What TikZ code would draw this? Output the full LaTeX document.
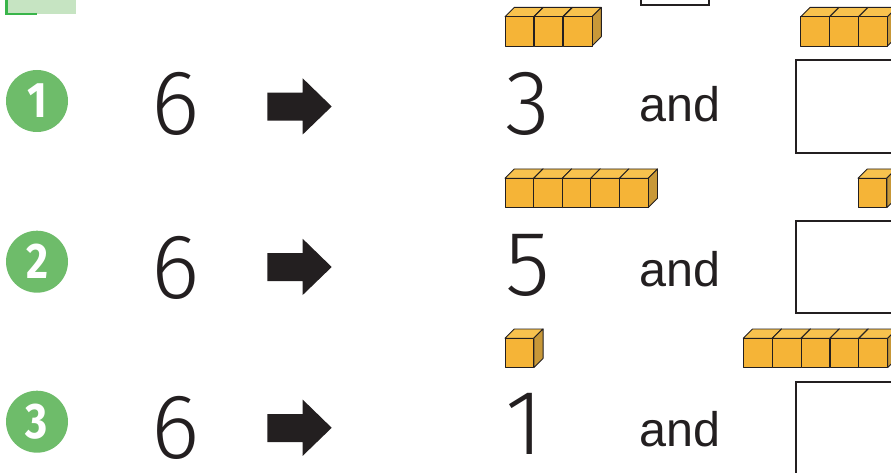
\documentclass[tikz,border=0pt]{standalone}
\usepackage{fontspec}
\setmainfont{Liberation Sans}
\newfontfamily\digfont{Fira Sans}[UprightFont={* Light}]
\newfontfamily\circfont{Fira Sans}[UprightFont={* Bold},FakeStretch=0.85]
\definecolor{circgreen}{RGB}{110,188,106}
\definecolor{lightgreen}{RGB}{198,228,194}
\definecolor{darkgreen}{RGB}{57,181,74}
\definecolor{cubefront}{RGB}{245,180,55}
\definecolor{cubetop}{RGB}{248,194,78}
\definecolor{cubeside}{RGB}{200,152,56}
\definecolor{ink}{RGB}{35,31,32}
\tikzset{
  numcirc/.style={circle,fill=circgreen,minimum size=62pt,inner sep=0pt,text=white,font=\circfont\fontsize{50}{50}\selectfont},
  digtxt/.style={inner sep=0pt,text=ink,font=\digfont\fontsize{92}{92}\selectfont},
  andtxt/.style={inner sep=0pt,text=ink,font=\fontsize{48.5}{48.5}\selectfont},
  boxline/.style={draw=ink,line width=2pt},
  cubeline/.style={draw=ink,line width=0.9pt,line join=round},
  arrowfill/.style={fill=ink}
}
\newcommand{\mycube}[2]{%
  \filldraw[cubeline,fill=cubetop] (#1,#2) -- ++(28.8,0) -- ++(9.3,-9.3) -- ++(-28.8,0) -- cycle;
  \filldraw[cubeline,fill=cubeside] (#1+28.8,#2) -- ++(9.3,-9.3) -- ++(0,29.3) -- ++(-9.3,9.3) -- cycle;
  \filldraw[cubeline,fill=cubefront] (#1,#2) rectangle ++(28.8,29.3);}
\newcommand{\myarrow}[1]{%
  \fill[arrowfill] (267.3,92.7+#1) -- (302.7,92.7+#1) -- (302.7,78.3+#1) -- (331.7,106.5+#1)
    -- (302.7,134.5+#1) -- (302.7,120.7+#1) -- (267.3,120.7+#1) -- cycle;}
\begin{document}
\begin{tikzpicture}[x=1pt,y=-1pt]
\useasboundingbox (0,0) rectangle (891,473);
\clip (0,0) rectangle (891,473);
% top-left tab
\fill[lightgreen] (5,0) rectangle (76,14);
\draw[darkgreen,line width=2.4pt] (6.5,0) -- (6.5,13.8) -- (37.3,13.8);
% top small box
\draw[boxline] (640.7,-10) rectangle (709,5);
% circles
\node[numcirc] (c1) at (37,101) {1};
\node[numcirc] (c2) at (37,261.7) {2};
\node[numcirc] (c3) at (37,421.7) {3};
% sixes
\node[digtxt,anchor=base] (s1) at (176,135) {6};
\node[digtxt,anchor=base] (s2) at (176,298) {6};
\node[digtxt,anchor=base] (s3) at (176,458) {6};
% arrows
\myarrow{0}
\myarrow{160.5}
\myarrow{321.3}
% left numbers
\node[digtxt,anchor=base] (l1) at (527.5,135) {3};
\node[digtxt,anchor=base] (l2) at (527.5,295) {5};
\node[digtxt,anchor=base] (l3) at (524,454) {1};
% and
\node[andtxt,anchor=base west] (a1) at (639.5,121.7) {and};
\node[andtxt,anchor=base west] (a2) at (639.5,286) {and};
\node[andtxt,anchor=base west] (a3) at (639.5,446.7) {and};
% answer boxes
\draw[boxline] (795.7,60) rectangle (910,152.7);
\draw[boxline] (795.7,221) rectangle (910,313.3);
\draw[boxline] (795.7,381.7) rectangle (910,490);
% cubes row 1
\foreach \i in {0,1,2} {\mycube{505+29.1*\i}{16.7}}
\foreach \i in {0,1,2} {\mycube{800.7+29*\i}{16.7}}
% cubes row 2
\foreach \i in {0,...,4} {\mycube{505+28.6*\i}{178.3}}
\mycube{858}{178.3}
% cubes row 3
\mycube{505}{338.3}
\foreach \i in {0,...,4} {\mycube{743.3+28.9*\i}{338.3}}
\end{tikzpicture}
\end{document}
